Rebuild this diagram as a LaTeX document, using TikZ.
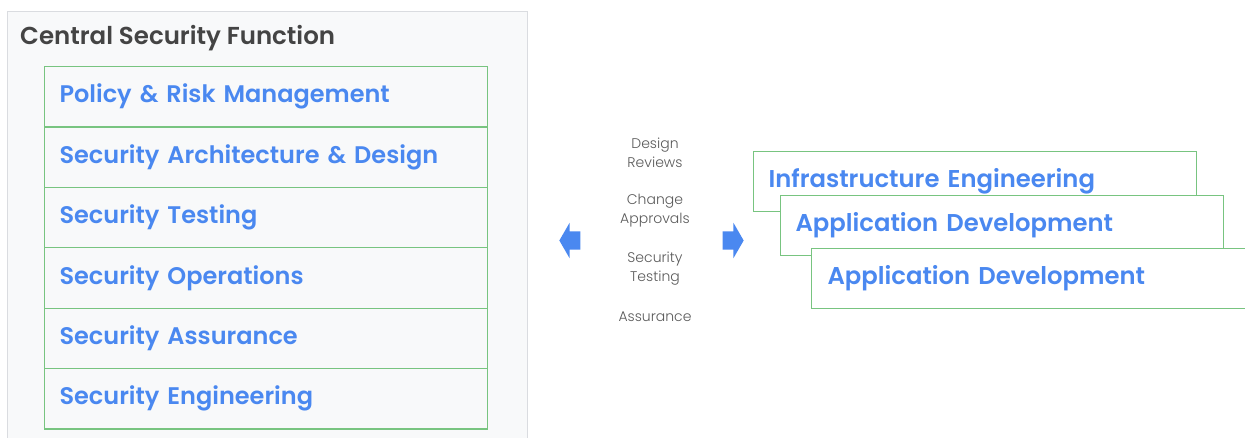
\documentclass[tikz,border=0pt]{standalone}
\usepackage{fontspec}
\setmainfont{Poppins SemiBold}
\newfontfamily\labfont{Poppins Light}
\usetikzlibrary{shapes.arrows}
\definecolor{gline}{RGB}{120,196,128}
\definecolor{gblue}{RGB}{74,136,240}
\definecolor{panelbg}{RGB}{248,249,250}
\definecolor{panelbd}{RGB}{218,220,224}
\definecolor{titlec}{RGB}{68,68,68}
\definecolor{labc}{RGB}{90,90,90}
\tikzset{
  rowbox/.style={draw=gline, line width=1.1pt, fill=panelbg, minimum width=443pt, minimum height=60.4pt,
    anchor=north west, inner xsep=15pt, text width=413pt, align=left,
    font=\fontsize{24}{28}\selectfont, text=gblue},
  teambox/.style={draw=gline, line width=1.1pt, fill=white, minimum width=443pt, minimum height=60pt,
    anchor=north west, inner xsep=15pt, text width=413pt, align=left,
    font=\fontsize{24.3}{28}\selectfont, text=gblue},
  lab/.style={font=\labfont\fontsize{14}{19}\selectfont, text=labc, align=center, inner sep=0pt},
  barrow/.style={single arrow, fill=gblue, draw=none, inner xsep=0pt, inner ysep=9pt,
    minimum height=21pt, single arrow head extend=8.5pt, single arrow tip angle=120}
}
\begin{document}
\begin{tikzpicture}[x=1pt,y=-1pt]
\useasboundingbox (0,0) rectangle (1245,437);
\fill[white] (0,0) rectangle (1245,437);
\node[draw=panelbd, line width=1pt, fill=panelbg, minimum width=520pt, minimum height=440pt, anchor=north west, inner sep=0pt] (panel) at (7,11) {};
\node[anchor=west, inner sep=0pt, font=\fontsize{24.5}{28}\selectfont, text=titlec] (title) at (20,38) {Central Security Function};
\node[rowbox] (r1) at (44,66) {Policy \& Risk Management};
\node[rowbox] (r2) at (44,126.4) {Security Architecture \& Design};
\node[rowbox] (r3) at (44,186.8) {Security Testing};
\node[rowbox] (r4) at (44,247.2) {Security Operations};
\node[rowbox] (r5) at (44,307.6) {Security Assurance};
\node[rowbox] (r6) at (44,368) {Security Engineering};
\node[lab] (l1) at (655,152.5) {Design\\Reviews};
\node[lab] (l2) at (655,210.5) {Change\\Approvals};
\node[lab] (l3) at (655,268.5) {Security\\Testing};
\node[lab] (l4) at (655,317) {Assurance};
\node[barrow, shape border rotate=180] (al) at (572.5,240.5) {};
\node[barrow] (ar) at (730.5,240.5) {};
\node[teambox] (t1) at (753,151) {Infrastructure Engineering};
\node[teambox] (t2) at (780,195) {Application Development};
\node[teambox, minimum width=445pt] (t3) at (811,248) {Application Development};
\end{tikzpicture}
\end{document}
